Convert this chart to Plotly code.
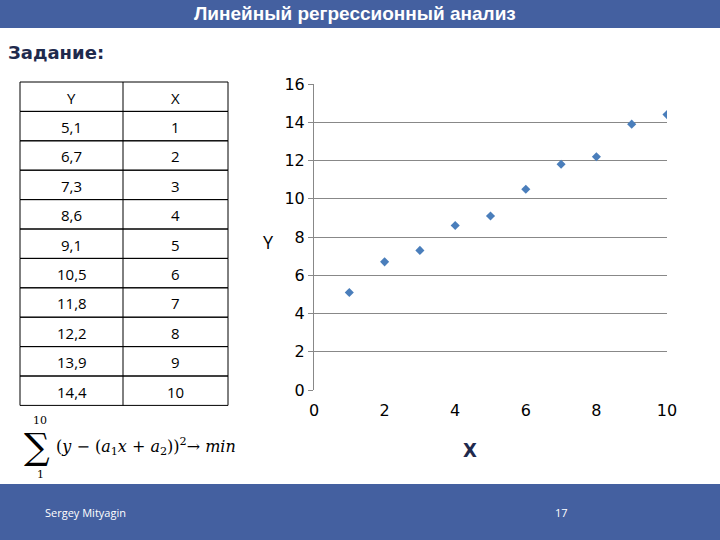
import plotly.graph_objects as go

x_vals = [1, 2, 3, 4, 5, 6, 7, 8, 9, 10]
y_vals = [5.1, 6.7, 7.3, 8.6, 9.1, 10.5, 11.8, 12.2, 13.9, 14.4]
y_labels = ["5,1", "6,7", "7,3", "8,6", "9,1", "10,5", "11,8", "12,2", "13,9", "14,4"]

W, H = 720, 540
def py(p):  # pixel y -> paper
    return 1 - p / H
def px(p):
    return p / W

fig = go.Figure()
fig.add_trace(go.Scatter(x=x_vals, y=y_vals, mode="markers",
                         marker=dict(symbol="diamond", size=7, color="#4A7EBB"),
                         showlegend=False))

shapes = []
ann = []
blue = "#4460A0"

def txt(t, x, y, size, color="black", family="Open Sans", xa="center"):
    ann.append(dict(text=t, x=px(x), y=py(y), xref="paper", yref="paper", xanchor=xa,
                    yanchor="middle", showarrow=False,
                    font=dict(size=size, color=color, family=family)))

shapes.append(dict(type="rect", xref="paper", yref="paper", x0=0, x1=1, y0=py(28), y1=1,
                   fillcolor=blue, line_width=0, layer="below"))
shapes.append(dict(type="rect", xref="paper", yref="paper", x0=0, x1=1, y0=0, y1=py(484),
                   fillcolor=blue, line_width=0, layer="below"))
txt("<b>Линейный регрессионный анализ</b>", 355, 14, 19, "white", "Liberation Sans")
txt("<b>Задание:</b>", 6, 52, 18, "#1F2A4D", "DejaVu Sans", "left")

# table
tx0, tx1, tmid = 20, 228, 123
top, rh = 82, 29.4
rows = [("Y", "X")] + list(zip(y_labels, [str(v) for v in x_vals]))
for i, (a, b) in enumerate(rows):
    y0 = top + i * rh
    shapes.append(dict(type="rect", xref="paper", yref="paper", x0=px(tx0), x1=px(tx1),
                       y0=py(y0 + rh), y1=py(y0), line=dict(color="black", width=1)))
    txt(a, (tx0 + tmid) / 2, y0 + rh / 2 + 1, 15)
    txt(b, (tmid + tx1) / 2, y0 + rh / 2 + 1, 15)
shapes.append(dict(type="line", xref="paper", yref="paper", x0=px(tmid), x1=px(tmid),
                   y0=py(top + len(rows) * rh), y1=py(top), line=dict(color="black", width=1)))

# formula
txt("∑", 22, 447, 36, family="DejaVu Serif", xa="left")
txt("10", 40, 420, 11, family="DejaVu Serif")
txt("1", 40, 474, 11, family="DejaVu Serif")
txt("(<i>y</i> − (<i>a</i><sub>1</sub><i>x</i> + <i>a</i><sub>2</sub>))<sup>2</sup>→ <i>min</i>",
    54, 446, 16, family="DejaVu Serif", xa="left")

txt("Sergey Mityagin", 43, 512, 11, "white", xa="left")
txt("17", 561, 512, 11, "white")
txt("<b>X</b>", 470, 450, 20, "#1F2A4D", "DejaVu Sans Condensed")
txt("Y", 268, 242, 18)

fig.update_layout(
    width=W, height=H, plot_bgcolor="white", paper_bgcolor="white",
    margin=dict(l=0, r=0, t=0, b=0),
    shapes=shapes, annotations=ann,
    xaxis=dict(range=[0, 10], dtick=2, showgrid=False, zeroline=False, ticks="outside",
               ticklen=6, tickcolor="rgba(0,0,0,0)",
               domain=[px(314), px(667)], automargin=False,
               tickfont=dict(size=16, family="DejaVu Sans", color="black")),
    yaxis=dict(range=[0, 16], dtick=2, showgrid=True, gridcolor="#888888", zeroline=False,
               domain=[py(390), py(84)], automargin=False,
               showline=True, linecolor="#888888", ticks="outside", ticklen=5, tickcolor="#888888",
               tickfont=dict(size=16, family="DejaVu Sans", color="black")),
)
fig.write_html("out.html", config={"displayModeBar": False},
               post_script="document.body.style.margin='0';")
